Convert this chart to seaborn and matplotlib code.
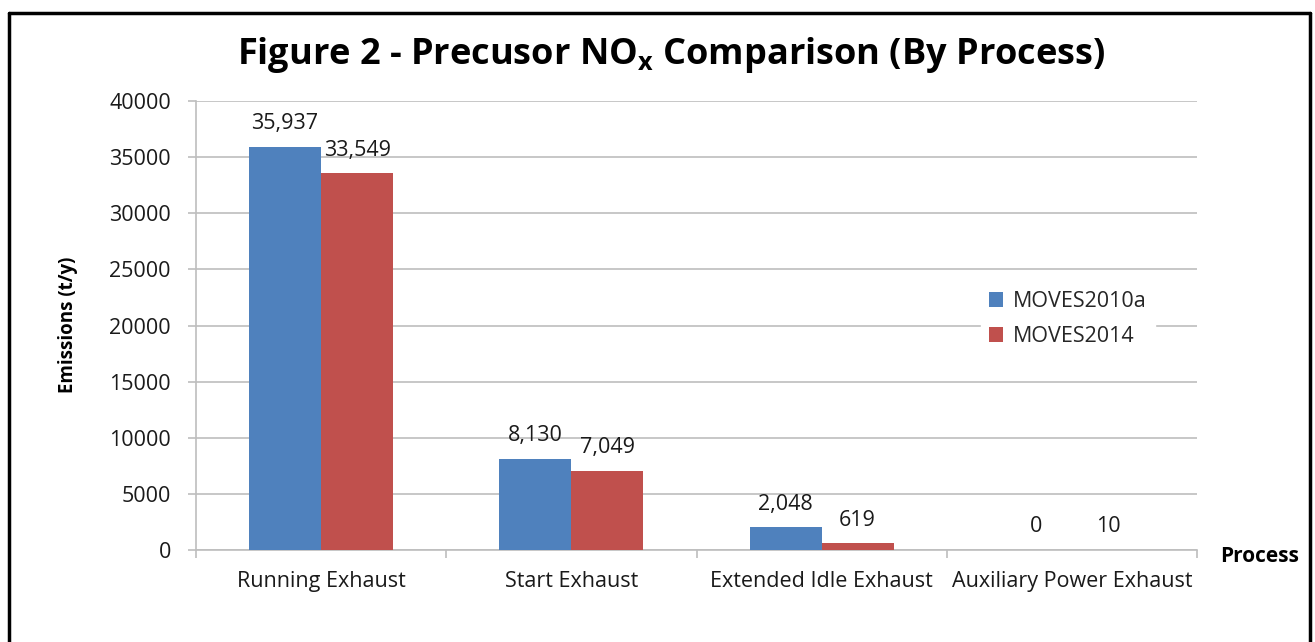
import matplotlib
matplotlib.use("Agg")
import matplotlib.pyplot as plt
import seaborn as sns
import pandas as pd
from matplotlib.lines import Line2D
from matplotlib.ticker import FixedLocator

categories = ["Running Exhaust", "Start Exhaust", "Extended Idle Exhaust", "Auxiliary Power Exhaust"]
moves2010a = [35937, 8130, 2048, 0]
moves2014 = [33549, 7049, 619, 10]
series = ["MOVES2010a", "MOVES2014"]
yticks = [0, 5000, 10000, 15000, 20000, 25000, 30000, 35000, 40000]

df = pd.DataFrame({
    "Process": categories * 2,
    "Emissions": moves2010a + moves2014,
    "Model": [series[0]] * len(categories) + [series[1]] * len(categories),
})

sns.set_theme(style="white")
plt.rcParams["font.family"] = ["Open Sans", "DejaVu Sans"]

FS = 15.5
TXT = "#1a1a1a"

fig = plt.figure(figsize=(13.15, 6.42), dpi=100)
ax = fig.add_axes([196 / 1315, 1 - 550 / 642, (1197 - 196) / 1315, (550 - 101) / 642])

palette = {"MOVES2010a": "#4F81BD", "MOVES2014": "#C0504D"}
sns.barplot(data=df, x="Process", y="Emissions", hue="Model", palette=palette,
            width=0.576, ax=ax, saturation=1, errorbar=None, zorder=3, linewidth=0)

ax.set_ylim(0, 40000)
ax.set_xlim(-0.5, 3.5)
ax.set_yticks(yticks)
ax.set_yticklabels([str(v) for v in yticks], fontsize=FS, color=TXT)
ax.yaxis.grid(True, color="#BEBEBE", linewidth=1.2, zorder=0)
ax.set_axisbelow(True)
ax.tick_params(axis="y", length=6, color="#BEBEBE", width=1.2, direction="out", left=True, pad=12)
ax.tick_params(axis="x", which="major", length=0, labelsize=FS, labelcolor=TXT, pad=15)
ax.xaxis.set_minor_locator(FixedLocator([-0.5, 0.5, 1.5, 2.5, 3.5]))
ax.tick_params(axis="x", which="minor", length=6, color="#BEBEBE", width=1.2, direction="out", bottom=True)
for s in ["top", "right"]:
    ax.spines[s].set_visible(False)
for s in ["left", "bottom"]:
    ax.spines[s].set_color("#BEBEBE")
    ax.spines[s].set_linewidth(1.2)

ax.set_xlabel("")
ax.set_ylabel("Emissions (t/y)", fontsize=13.5, fontweight="bold", color="black")
ax.yaxis.set_label_coords((78 - 196) / 1001, (550 - 325) / 449)
fig.text(1220 / 1315, 1 - 556 / 642, "Process", fontsize=15, fontweight="bold", ha="left", va="center", color="black")

for cont in ax.containers:
    ax.bar_label(cont, labels=[f"{v:,.0f}" for v in cont.datavalues], padding=9, fontsize=FS, color=TXT)

handles, labels = ax.get_legend_handles_labels()
ax.legend(handles, labels, loc="center left", bbox_to_anchor=((970 - 196) / 1001, (550 - 319) / 449),
          frameon=True, facecolor="white", edgecolor="white", framealpha=1, fontsize=FS,
          handlelength=0.65, handleheight=0.65, handletextpad=0.45, labelspacing=0.65, borderpad=0.4)

fig.text(671 / 1315, 1 - 55 / 642, "Figure 2 - Precusor NO$_\\mathregular{x}$ Comparison (By Process)",
         fontsize=26, fontweight="bold", ha="center", va="center", color="black")

# outer border (left, top, right)
fig.add_artist(Line2D([9 / 1315, 9 / 1315], [0, 1 - 13 / 642], transform=fig.transFigure, color="black", linewidth=2.5))
fig.add_artist(Line2D([9 / 1315, 1310 / 1315], [1 - 13 / 642, 1 - 13 / 642], transform=fig.transFigure, color="black", linewidth=2.5))
fig.add_artist(Line2D([1310 / 1315, 1310 / 1315], [0, 1 - 13 / 642], transform=fig.transFigure, color="black", linewidth=2.5))

fig.savefig("out.png", dpi=100)
